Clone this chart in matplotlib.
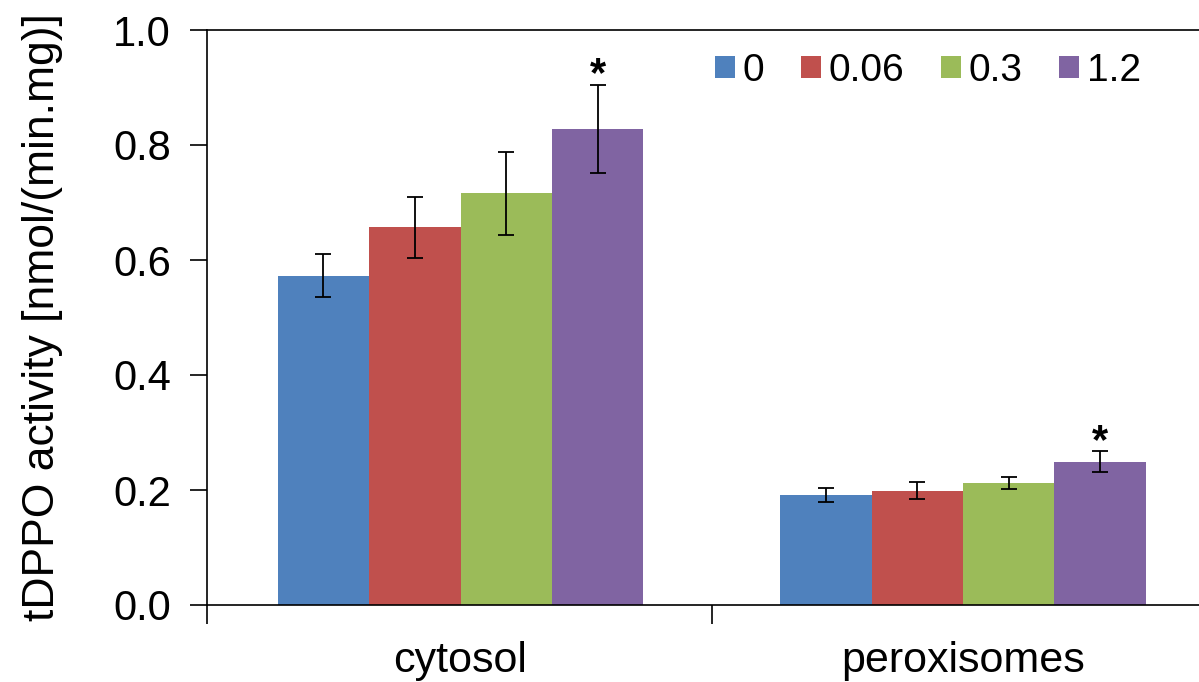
import numpy as np
import matplotlib
matplotlib.use("Agg")
import matplotlib.pyplot as plt

plt.rcParams["font.family"] = ["Liberation Sans", "DejaVu Sans"]

categories = ["cytosol", "peroxisomes"]
doses = ["0", "0.06", "0.3", "1.2"]
colors = ["#4F81BD", "#C0504D", "#9BBB59", "#8064A2"]
# rows = dose, columns = category
values = [[0.573, 0.191],
          [0.657, 0.199],
          [0.716, 0.212],
          [0.828, 0.249]]
errors = [[0.038, 0.012],
          [0.053, 0.015],
          [0.072, 0.010],
          [0.077, 0.018]]
significant = [[False, False], [False, False], [False, False], [True, True]]

fig = plt.figure(figsize=(11.99, 6.82), dpi=100)
ax = fig.add_axes([207/1199, 77/682, 992/1199, 575/682])

x = np.arange(len(categories))
w = 0.182
for i in range(len(doses)):
    xs = x + (i - 1.5) * w
    ax.bar(xs, values[i], w, color=colors[i], label=doses[i], zorder=2)
    ax.errorbar(xs, values[i], yerr=errors[i], fmt="none", ecolor="black",
                elinewidth=1.3, capsize=5.5, capthick=1.3, zorder=3)
    for j in range(len(categories)):
        if significant[i][j]:
            ax.annotate("*", (xs[j], values[i][j] + errors[i][j]),
                        xytext=(0, -1), textcoords="offset points",
                        ha="center", va="baseline", fontsize=30,
                        fontweight="bold")

x0 = -0.5045
ax.set_xlim(x0, x0 + 992/502.5)
ax.set_ylim(0, 1.0)
ax.set_yticks([0, 0.2, 0.4, 0.6, 0.8, 1.0])
ax.set_yticklabels(["0.0", "0.2", "0.4", "0.6", "0.8", "1.0"])
ax.set_xticks(x)
ax.set_xticklabels(categories)
ax.set_xticks([x0, 0.5], minor=True)
ax.tick_params(axis="x", which="major", length=0, pad=26, labelsize=31)
ax.tick_params(axis="x", which="minor", length=14, width=1.2, direction="out")
ax.tick_params(axis="y", length=12, width=1.2, direction="out", pad=14, labelsize=30)
ax.set_ylabel("tDPPO activity [nmol/(min.mg)]", fontsize=32, labelpad=36)

for s in ["left", "bottom", "top"]:
    ax.spines[s].set_linewidth(1.2)
ax.spines["right"].set_visible(False)

ax.legend(loc="upper right", bbox_to_anchor=(0.9415, 0.96), ncol=4, frameon=False,
          fontsize=28, handlelength=0.52, handleheight=0.5, handletextpad=0.2,
          columnspacing=0.93, borderpad=0, borderaxespad=0)

fig.savefig("out.png", dpi=100)
